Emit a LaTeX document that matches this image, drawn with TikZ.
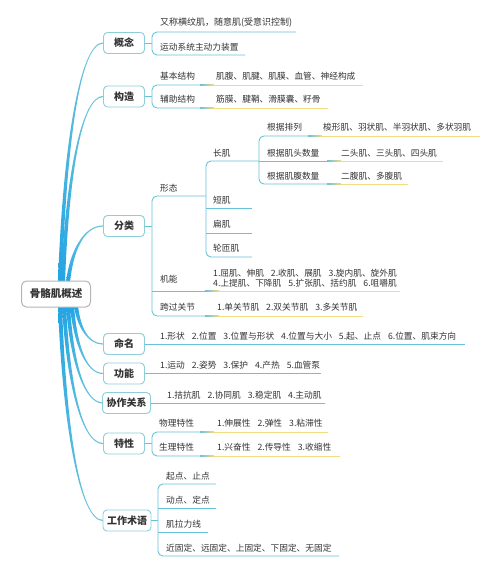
\documentclass[tikz,border=0pt]{standalone}
\usepackage{fontspec}
\setmainfont{Noto Sans CJK SC}
\definecolor{bblue}{HTML}{22A4E4}
\definecolor{lblue}{HTML}{6CC4DC}
\definecolor{lineblue}{HTML}{66C3DB}
\definecolor{boxborder}{HTML}{8CCFDA}
\definecolor{yel}{HTML}{F2DC80}
\definecolor{txt}{HTML}{333333}
\definecolor{rootborder}{HTML}{B5B5B5}
\newcommand\ngap{\hspace{7pt}}
\newcommand\rbranch[5]{%
  \pgfmathsetmacro\we{(#2>#4)?-0.6:0.6}%
  \pgfmathsetmacro\cax{#1+0.1*(#3-#1)}%
  \pgfmathsetmacro\cay{#2+0.55*(#4-#2)}%
  \pgfmathsetmacro\cbx{#1+0.45*(#3-#1)}%
  \pgfmathsetmacro\yo{#4+\we}%
  \pgfmathsetmacro\yi{#4-\we}%
  \shade[#5] (#1-2,#2) .. controls (\cax-1.8,\cay) and (\cbx,\yo) .. (#3,\yo)
     -- (#3,\yi) .. controls (\cbx,\yi) and (\cax+1.8,\cay) .. (#1+2,#2) -- cycle;}
\newcommand\yl[3]{%
  \shade[left color=lineblue,right color=yel] (#1,#2-0.45) rectangle (#1+14,#2+0.45);
  \draw[ylw] (#1+14,#2) -- (#3,#2);}
\begin{document}
\begin{tikzpicture}[x=1pt,y=-1pt,
  bl/.style={draw=lineblue,line width=0.9pt},
  ylw/.style={draw=yel,line width=0.9pt},
  brup/.style={top color=lblue,bottom color=bblue},
  brdn/.style={top color=bblue,bottom color=lblue},
  lvl/.style={draw=boxborder,line width=0.9pt,rounded corners=4pt,fill=white,
    minimum height=21pt,minimum width=41pt,inner xsep=4pt,inner ysep=0pt,
    font=\fontsize{10}{12}\selectfont\bfseries,text=txt},
  rootbox/.style={draw=rootborder,line width=1pt,rounded corners=5pt,fill=white,
    minimum height=26pt,minimum width=69pt,inner sep=0pt,
    font=\fontsize{10.5}{12}\selectfont\bfseries,text=txt},
  t/.style={anchor=west,inner sep=0pt,font=\fontsize{8.7}{10.5}\selectfont,text=txt}]
\useasboundingbox[fill=white] (0,0) rectangle (500,588);

% ---- root branches ----
\rbranch{60}{282}{103}{43}{brup}
\rbranch{63}{282}{103}{96.5}{brup}
\rbranch{68}{282}{103}{226}{brup}
\rbranch{76}{306}{103}{344}{brdn}
\rbranch{72}{306}{103}{373.5}{brdn}
\rbranch{68}{306}{103}{403}{brdn}
\rbranch{64}{306}{103}{443.5}{brdn}
\rbranch{60}{306}{103}{520.5}{brdn}

\node[rootbox] (root) at (56,294) {骨骼肌概述};

\node[lvl] (gn) at (124,43) {概念};
\node[lvl] (gz) at (124,96.5) {构造};
\node[lvl] (fl) at (124,226) {分类};
\node[lvl] (mm) at (124,344) {命名};
\node[lvl] (gnn) at (124,373.5) {功能};
\node[lvl] (xz) at (126.5,403) {协作关系};
\node[lvl] (tx) at (124,443.5) {特性};
\node[lvl] (gs) at (127,520.5) {工作术语};

% ---- 概念 ----
\draw[bl] (gn.east) -- (152,43);
\draw[bl,rounded corners=5pt] (296,32) -- (152,32) -- (152,55) -- (245,55);
\node[t,font=\fontsize{9}{10.5}\selectfont] (a1) at (160,23) {又称横纹肌，随意肌(受意识控制)};
\node[t] (a2) at (160,47) {运动系统主动力装置};

% ---- 构造 ----
\draw[bl] (gz.east) -- (152,96.5);
\draw[bl,rounded corners=5pt] (200,85) -- (152,85) -- (152,108) -- (200,108);
\yl{200}{85}{363}
\yl{200}{108}{328}
\node[t] (b1) at (160,76) {基本结构};
\node[t] (b1v) at (216,76) {肌腹、肌腱、肌膜、血管、神经构成};
\node[t] (b2) at (160,99) {辅助结构};
\node[t] (b2v) at (216,99) {筋膜、腱鞘、滑膜囊、籽骨};

% ---- 分类 ----
\draw[bl] (fl.east) -- (152,226);
\draw[bl,rounded corners=5pt] (206,196) -- (152,196) -- (152,316) -- (205,316);
\draw[bl] (152,291) -- (205,291);
\yl{205}{291}{400}
\yl{205}{316}{363}
\node[t] (c1) at (160,188) {形态};
\draw[bl,rounded corners=5pt] (259,161) -- (206,161) -- (206,257) -- (252,257);
\draw[bl] (206,208) -- (252,208);
\draw[bl] (206,233) -- (252,233);
\node[t] (c11) at (213,153) {长肌};
\node[t] (c12) at (213,200) {短肌};
\node[t] (c13) at (213,224) {扁肌};
\node[t] (c14) at (213,248) {轮匝肌};
\draw[bl,rounded corners=5pt] (308,136) -- (259,136) -- (259,184) -- (327,184);
\draw[bl] (259,161) -- (327,161);
\yl{308}{136}{480}
\yl{327}{161}{443}
\yl{327}{184}{408}
\node[t] (c111) at (267,127) {根据排列};
\node[t] (c111v) at (323,127) {梭形肌、羽状肌、半羽状肌、多状羽肌};
\node[t] (c112) at (267,153) {根据肌头数量};
\node[t] (c112v) at (341,153) {二头肌、三头肌、四头肌};
\node[t] (c113) at (267,176) {根据肌腹数量};
\node[t] (c113v) at (341,176) {二腹肌、多腹肌};
\node[t] (c2) at (160,279) {机能};
\node[t,align=left,font=\fontsize{8.7}{10}\selectfont] (c2v) at (213,278)
  {1.屈肌、伸肌\ngap 2.收肌、展肌\ngap 3.旋内肌、旋外肌\\4.上提肌、下降肌\ngap 5.扩张肌、括约肌\ngap 6.咀嚼肌};
\node[t] (c3) at (160,307) {跨过关节};
\node[t] (c3v) at (217,307) {1.单关节肌\ngap 2.双关节肌\ngap 3.多关节肌};

% ---- 命名 / 功能 / 协作关系 ----
\draw[bl] (mm.east) -- (465,344);
\node[t] (d1) at (160,336) {1.形状\ngap 2.位置\ngap 3.位置与形状\ngap 4.位置与大小\ngap 5.起、止点\ngap 6.位置、肌束方向};
\draw[bl] (gnn.east) -- (321,373.5);
\node[t] (e1) at (160,365) {1.运动\ngap 2.姿势\ngap 3.保护\ngap 4.产热\ngap 5.血管泵};
\draw[bl] (xz.east) -- (325,403);
\node[t] (f1) at (167,395) {1.拮抗肌\ngap 2.协同肌\ngap 3.稳定肌\ngap 4.主动肌};

% ---- 特性 ----
\draw[bl] (tx.east) -- (152,443.5);
\draw[bl,rounded corners=5pt] (200,432) -- (152,432) -- (152,456) -- (200,456);
\yl{200}{432}{328}
\yl{200}{456}{340}
\node[t] (g1) at (159,423) {物理特性};
\node[t] (g1v) at (217,423) {1.伸展性\ngap 2.弹性\ngap 3.粘滞性};
\node[t] (g2) at (159,447) {生理特性};
\node[t] (g2v) at (217,447) {1.兴奋性\ngap 2.传导性\ngap 3.收缩性};

% ---- 工作术语 ----
\draw[bl] (gs.east) -- (158,520.5);
\draw[bl,rounded corners=5pt] (216,484) -- (158,484) -- (158,556) -- (339,556);
\draw[bl] (158,508) -- (216,508);
\draw[bl] (158,532) -- (208,532);
\node[t] (h1) at (166,476) {起点、止点};
\node[t] (h2) at (166,500) {动点、定点};
\node[t] (h3) at (166,524) {肌拉力线};
\node[t] (h4) at (166,548) {近固定、远固定、上固定、下固定、无固定};
\end{tikzpicture}
\end{document}
